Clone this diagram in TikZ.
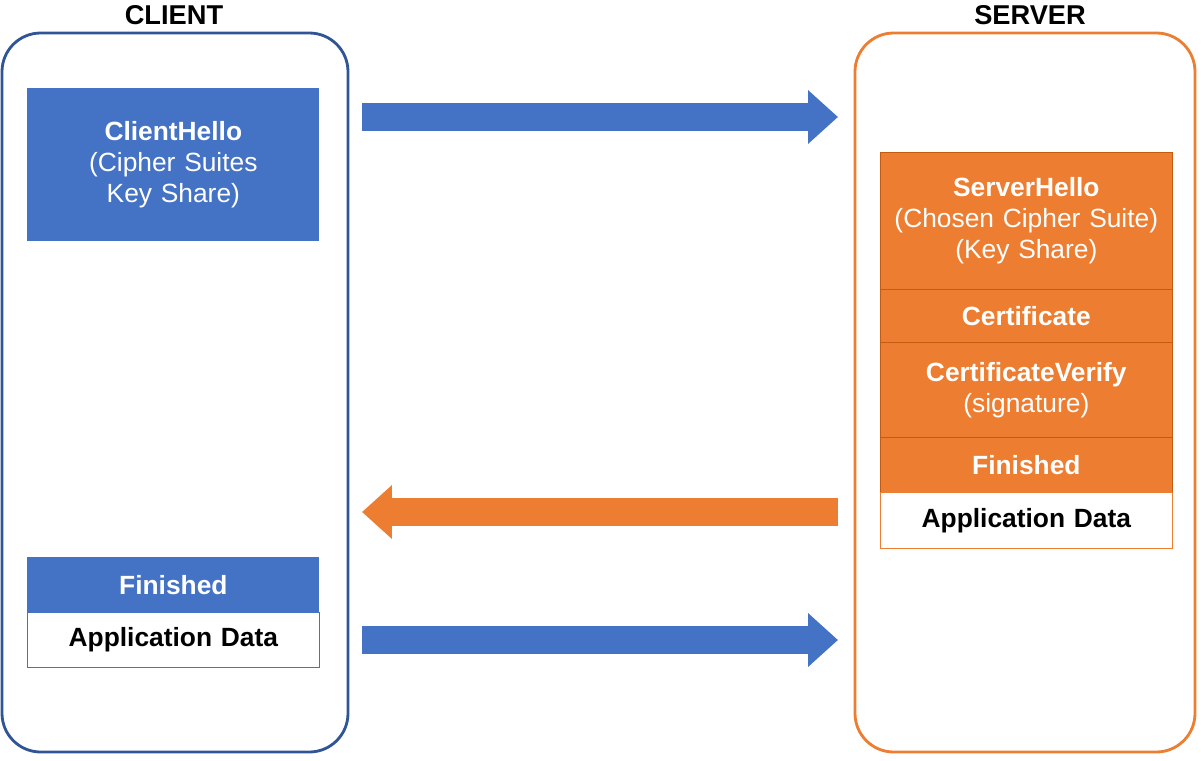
\documentclass[tikz,border=0pt]{standalone}
\usepackage{fontspec}
\setmainfont{Liberation Sans}
\usetikzlibrary{arrows.meta}
\definecolor{cblue}{HTML}{4472C4}
\definecolor{cblueline}{HTML}{2F5597}
\definecolor{corange}{HTML}{ED7D31}
\definecolor{corangeline}{HTML}{C55A11}
\begin{document}
\begin{tikzpicture}[x=0.02cm,y=-0.02cm]
  \tikzset{
    lane/.style={line width=1.6pt, rounded corners=22pt},
    msg/.style={anchor=north west, inner sep=0pt, text width=5.84cm, align=center,
      font=\fontsize{15}{17.5}\selectfont, text=white},
    bluemsg/.style={msg, fill=cblue},
    orangemsg/.style={msg, fill=corange, draw=corangeline, line width=0.4pt},
    datamsg/.style={msg, fill=white, text=black},
    flow/.style={line width=15.9pt, -{Triangle[length=17pt,width=29.5pt]}},
    title/.style={font=\bfseries\fontsize{15.5}{18}\selectfont}
  }
  \useasboundingbox (0,0) rectangle (1201,761);
  % lanes
  \draw [lane, cblueline] (2,33) rectangle (348,752);
  \draw [lane, corange] (855,33) rectangle (1195,752);
  \node [title] (client) at (174,15) {CLIENT};
  \node [title] (server) at (1030,15) {SERVER};
  % client messages
  \node [bluemsg, minimum height=3.06cm] (chello) at (27,88) {\textbf{ClientHello}\\(Cipher Suites\\Key Share)};
  \node [bluemsg, minimum height=1.1cm] (cfin) at (27,557) {\textbf{Finished}};
  \node [datamsg, minimum height=1.1cm, draw=cblue, line width=0.5pt] (cdata) at (27,612) {\textbf{Application Data}};
  % server messages
  \node [orangemsg, minimum height=2.74cm] (shello) at (880,152) {\textbf{ServerHello}\\(Chosen Cipher Suite)\\(Key Share)};
  \node [orangemsg, minimum height=1.06cm] (scert) at (880,289) {\textbf{Certificate}};
  \node [orangemsg, minimum height=1.9cm] (sverify) at (880,342) {\textbf{CertificateVerify}\\(signature)};
  \node [orangemsg, minimum height=1.1cm] (sfin) at (880,437) {\textbf{Finished}};
  \node [datamsg, minimum height=1.12cm, draw=corange, line width=0.5pt] (sdata) at (880,492) {\textbf{Application Data}};
  % flows
  \coordinate (a1) at (362,117); \coordinate (b1) at (838,117);
  \coordinate (a2) at (838,512); \coordinate (b2) at (362,512);
  \coordinate (a3) at (362,640); \coordinate (b3) at (838,640);
  \draw [flow, cblue] (a1) -- (b1);
  \draw [flow, corange] (a2) -- (b2);
  \draw [flow, cblue] (a3) -- (b3);
\end{tikzpicture}
\end{document}
